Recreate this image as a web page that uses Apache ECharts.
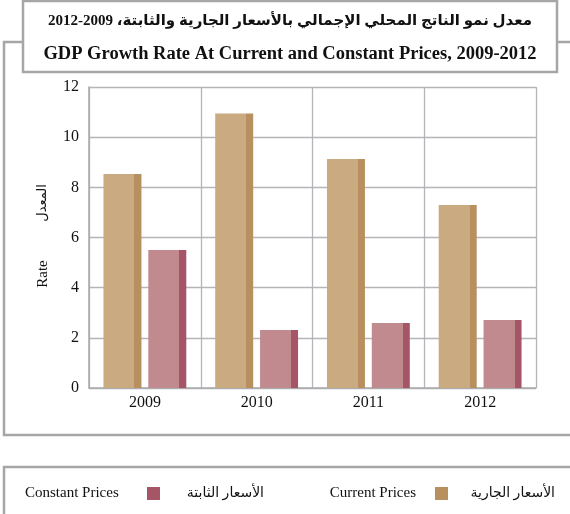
<!DOCTYPE html>
<html>
<head>
<meta charset="utf-8">
<script src="https://cdn.jsdelivr.net/npm/echarts@6/dist/echarts.min.js"></script>
<style>html,body{margin:0;padding:0;background:#fff;}#c{width:570px;height:514px;}</style>
</head>
<body>
<div id="c"></div>
<script>
const categories = ['2009', '2010', '2011', '2012'];
const currentPrices = [8.53, 10.94, 9.13, 7.30];
const constantPrices = [5.50, 2.31, 2.59, 2.71];
const yTicks = [0, 2, 4, 6, 8, 10, 12];
const seriesNames = ['Current Prices', 'Constant Prices'];
const seriesNamesAr = ['الأسعار الجارية', 'الأسعار الثابتة'];
const titleAr = 'معدل نمو الناتج المحلي الإجمالي بالأسعار الجارية والثابتة، 2009-2012';
const titleEn = 'GDP Growth Rate At Current and Constant Prices, 2009-2012';
const axisNameEn = 'Rate';
const axisNameAr = 'المعدل';

const SERIF = '"Liberation Serif", "DejaVu Sans", serif';
const curFront = '#C9AA81', curSide = '#B8905F';
const conFront = '#C08A8F', conSide = '#A55566';
function grad(front, side) {
  return new echarts.graphic.LinearGradient(0, 0, 1, 0, [
    {offset: 0, color: front}, {offset: 0.815, color: front},
    {offset: 0.815, color: side}, {offset: 1, color: side}
  ]);
}
const chart = echarts.init(document.getElementById('c'), null, {renderer: 'canvas'});
chart.setOption({
  animation: false,
  backgroundColor: '#fff',
  grid: {left: 89, right: 34, top: 87, bottom: 126, containLabel: false},
  xAxis: {
    type: 'category', data: categories,
    axisLine: {show: true, lineStyle: {color: '#A9AAAE', width: 1.5}},
    axisTick: {show: false},
    splitLine: {show: true, lineStyle: {color: '#B4B5B9', width: 1.3}},
    axisLabel: {color: '#111', fontFamily: SERIF, fontSize: 16, margin: 7}
  },
  yAxis: {
    type: 'value', min: yTicks[0], max: yTicks[yTicks.length - 1], interval: 2,
    axisLine: {show: true, lineStyle: {color: '#A9AAAE', width: 1.5}},
    axisTick: {show: false},
    splitLine: {show: true, lineStyle: {color: '#B4B5B9', width: 1.3}},
    axisLabel: {color: '#111', fontFamily: SERIF, fontSize: 16, margin: 10}
  },
  legend: [
    {data: [{name: seriesNames[0], itemStyle: {color: curSide}}], left: 435, top: 487, icon: 'rect', itemWidth: 13, itemHeight: 13,
     formatter: () => '', selectedMode: false, padding: 0},
    {data: [{name: seriesNames[1], itemStyle: {color: conSide}}], left: 147, top: 487, icon: 'rect', itemWidth: 13, itemHeight: 13,
     formatter: () => '', selectedMode: false, padding: 0}
  ],
  series: [
    {name: seriesNames[0], type: 'bar', data: currentPrices, barWidth: 38, barGap: '18%',
     color: curSide, itemStyle: {color: grad(curFront, curSide)}},
    {name: seriesNames[1], type: 'bar', data: constantPrices, barWidth: 38, barGap: '18%',
     color: conSide, itemStyle: {color: grad(conFront, conSide)}}
  ],
  graphic: [
    {type: 'rect', z: -10, shape: {x: 4, y: 42, width: 580, height: 393},
     style: {fill: 'none', stroke: '#A6A6A6', lineWidth: 2.5}, silent: true},
    {type: 'rect', z: 10, shape: {x: 23, y: 1, width: 534, height: 71},
     style: {fill: '#fff', stroke: '#A6A6A6', lineWidth: 2.5}, silent: true},
    {type: 'text', z: 11, x: 290, y: 21, style: {text: titleAr, textAlign: 'center', textVerticalAlign: 'middle',
      font: 'bold 15px ' + SERIF, fill: '#111'}},
    {type: 'text', z: 11, x: 290, y: 54, style: {text: titleEn, textAlign: 'center', textVerticalAlign: 'middle',
      font: 'bold 18.5px ' + SERIF, fill: '#111'}},
    {type: 'text', x: 43, y: 203, rotation: Math.PI / 2, style: {text: axisNameAr, textAlign: 'center', textVerticalAlign: 'middle',
      font: '13px ' + SERIF, fill: '#111'}},
    {type: 'text', x: 43, y: 274, rotation: Math.PI / 2, style: {text: axisNameEn, textAlign: 'center', textVerticalAlign: 'middle',
      font: '15px ' + SERIF, fill: '#111'}},
    {type: 'rect', z: -10, shape: {x: 4, y: 467, width: 580, height: 60},
     style: {fill: 'none', stroke: '#A6A6A6', lineWidth: 2.5}, silent: true},
    {type: 'text', x: 555, y: 493, style: {text: seriesNamesAr[0], textAlign: 'right', textVerticalAlign: 'middle',
      font: '14px ' + SERIF, fill: '#111'}},
    {type: 'text', x: 416, y: 493, style: {text: seriesNames[0], textAlign: 'right', textVerticalAlign: 'middle',
      font: '15px ' + SERIF, fill: '#111'}},
    {type: 'text', x: 264, y: 493, style: {text: seriesNamesAr[1], textAlign: 'right', textVerticalAlign: 'middle',
      font: '14px ' + SERIF, fill: '#111'}},
    {type: 'text', x: 25, y: 493, style: {text: seriesNames[1], textAlign: 'left', textVerticalAlign: 'middle',
      font: '15px ' + SERIF, fill: '#111'}}
  ]
});
</script>
</body>
</html>
